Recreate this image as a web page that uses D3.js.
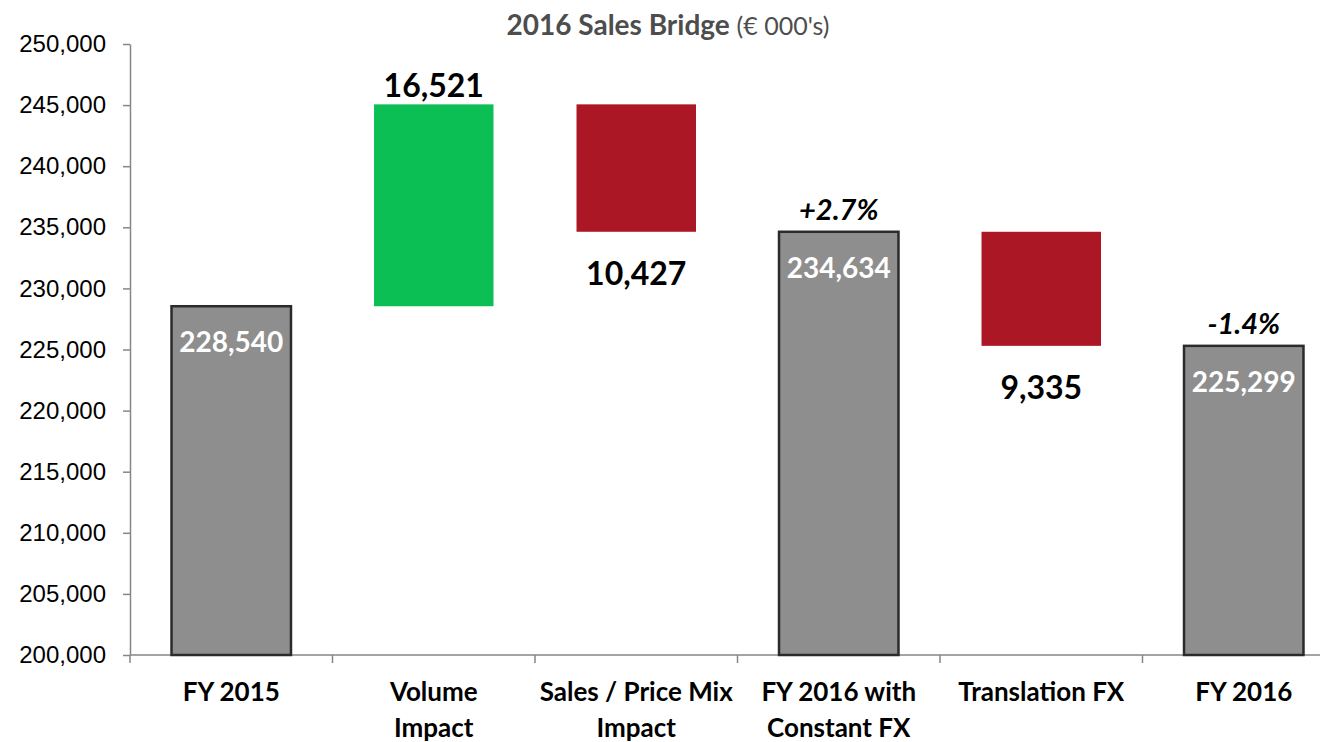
<!DOCTYPE html>
<html><head><meta charset="utf-8">
<script src="https://cdn.jsdelivr.net/npm/d3@7"></script>
<style>body{margin:0;background:#fff;}svg{display:block;font-family:Lato,"Open Sans",sans-serif;}</style>
</head><body>
<svg id="c" width="1320" height="742"></svg>
<script>
const categories = [["FY 2015"],["Volume","Impact"],["Sales / Price Mix","Impact"],["FY 2016 with","Constant FX"],["Translation FX"],["FY 2016"]];
const kinds = ["total","up","down","total","down","total"];
const amounts = [228540, 16521, 10427, 234634, 9335, 225299];
const pctLabels = [null, null, null, "+2.7%", null, "-1.4%"];
const yTicks = [200000,205000,210000,215000,220000,225000,230000,235000,240000,245000,250000];

const svg = d3.select("#c");
const x0 = 130, bandW = 202.5;
const x = d3.scaleBand().domain(d3.range(categories.length)).range([x0, x0 + bandW*categories.length]).paddingInner(0.41).paddingOuter(0.205);
const y = d3.scaleLinear().domain([200000,250000]).range([655,44]);

let run = 0; const bars = [];
amounts.forEach((v,i)=>{
  const k = kinds[i];
  if (k==="total"){ bars.push({i,k,lo:200000,hi:v,v}); run=v; }
  else if (k==="up"){ bars.push({i,k,lo:run,hi:run+v,v}); run+=v; }
  else { bars.push({i,k,lo:run-v,hi:run,v}); run-=v; }
});

const colors = {total:"#8e8e8e", up:"#0cbf55", down:"#ab1724"};
const fmt = d3.format(",");

const yAxis = svg.append("g").attr("transform",`translate(${x0},0)`).call(d3.axisLeft(y).tickValues(yTicks).tickFormat(fmt).tickSize(7).tickSizeOuter(0));
yAxis.select(".domain").attr("stroke","#868686").attr("stroke-width",1.5);
yAxis.selectAll(".tick line").attr("stroke","#868686").attr("stroke-width",1.5);
yAxis.selectAll(".tick text").attr("font-size",24).attr("fill","#000").attr("x",-24);

const xg = svg.append("g").attr("transform","translate(0,655)");
xg.append("line").attr("x1",x0).attr("x2",1320).attr("stroke","#868686").attr("stroke-width",1.5);
d3.range(categories.length+1).forEach(j=>{
  const tx = x0 + j*bandW;
  xg.append("line").attr("x1",tx).attr("x2",tx).attr("y1",0).attr("y2",8).attr("stroke","#868686").attr("stroke-width",1.5);
});

bars.forEach(b=>{
  const r = svg.append("rect").attr("x",x(b.i)).attr("width",x.bandwidth())
    .attr("y",y(b.hi)).attr("height",y(b.lo)-y(b.hi)).attr("fill",colors[b.k]);
  if (b.k==="total") r.attr("stroke","#2b2b2b").attr("stroke-width",2.5);
});

categories.forEach((lines,i)=>{
  const t = svg.append("text").attr("x",x(i)+x.bandwidth()/2).attr("y",701).attr("text-anchor","middle")
    .attr("font-size",26).attr("font-weight","bold").attr("fill","#000");
  lines.forEach((l,k)=>t.append("tspan").attr("x",x(i)+x.bandwidth()/2).attr("dy",k===0?0:36).text(l));
});

bars.forEach(b=>{
  const cx = x(b.i)+x.bandwidth()/2;
  if (b.k==="total"){
    svg.append("text").attr("x",cx).attr("y",y(b.hi)+46).attr("text-anchor","middle")
      .attr("font-size",28).attr("font-weight","bold").attr("fill","#fff").text(fmt(b.v));
  } else if (b.k==="up"){
    svg.append("text").attr("x",cx).attr("y",y(b.hi)-7).attr("text-anchor","middle")
      .attr("font-size",32).attr("font-weight","bold").attr("fill","#000").text(fmt(b.v));
  } else {
    svg.append("text").attr("x",cx).attr("y",y(b.lo)+53).attr("text-anchor","middle")
      .attr("font-size",32).attr("font-weight","bold").attr("fill","#000").text(fmt(b.v));
  }
  if (pctLabels[b.i]){
    svg.append("text").attr("x",cx).attr("y",y(b.hi)-12).attr("text-anchor","middle")
      .attr("font-size",29).attr("font-weight","bold").attr("font-style","italic").attr("fill","#000").text(pctLabels[b.i]);
  }
});

const title = svg.append("text").attr("x",668).attr("y",35).attr("text-anchor","middle").attr("fill","#4d4d4d");
title.append("tspan").attr("font-size",28).attr("font-weight","bold").text("2016 Sales Bridge ");
title.append("tspan").attr("font-size",25).text("(€ 000's)");
</script>
</body></html>
